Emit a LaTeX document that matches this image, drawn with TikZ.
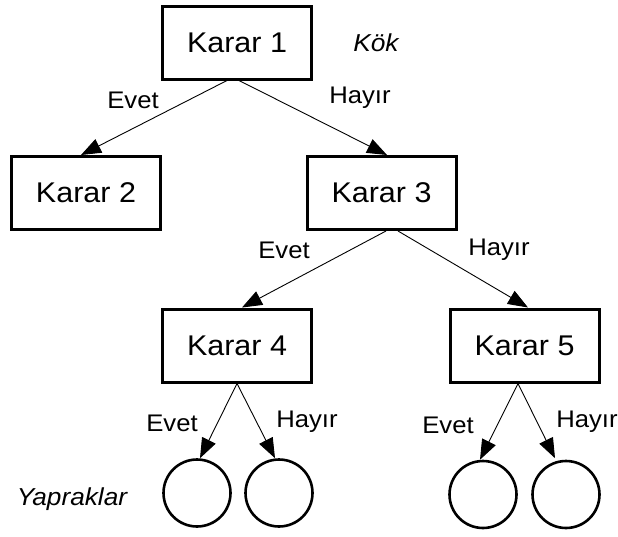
\documentclass[tikz,border=0pt]{standalone}
\usepackage{fontspec}
\setmainfont{Liberation Sans}
\newfontfamily\widesans[FakeStretch=1.07]{Liberation Sans}
\usetikzlibrary{arrows.meta}
\begin{document}
\begin{tikzpicture}[x=1pt,y=-1pt,
  decision/.style={draw,line width=3pt,minimum width=149pt,minimum height=73pt,
    inner sep=0pt,font=\widesans\fontsize{28.5}{32}\selectfont},
  leaf/.style={draw,circle,line width=2.6pt,minimum size=67pt,inner sep=0pt},
  edge/.style={line width=0.9pt,-{Triangle[length=20pt,width=15pt]}},
  lbl/.style={inner sep=0pt,font=\widesans\fontsize{24}{28}\selectfont},
  note/.style={inner sep=0pt,font=\widesans\fontsize{24.5}{28}\selectfont\itshape}]
  \useasboundingbox (0,0) rectangle (618,536);

  % decision boxes
  \node[decision] (k1) at (237,42.5) {Karar 1};
  \node[decision] (k2) at (86,193) {Karar 2};
  \node[decision] (k3) at (381.5,193) {Karar 3};
  \node[decision] (k4) at (237,345.5) {Karar 4};
  \node[decision] (k5) at (524.5,345.5) {Karar 5};

  % leaves
  \node[leaf] (l1) at (197,493) {};
  \node[leaf] (l2) at (279,493) {};
  \node[leaf] (l3) at (483,494.5) {};
  \node[leaf] (l4) at (566,494.5) {};

  % branches
  \draw[edge] ([xshift=-10pt]k1.south) -- ([xshift=-5pt]k2.north);
  \draw[edge] ([xshift=2pt]k1.south) -- ([xshift=5.5pt]k3.north);
  \draw[edge] ([xshift=4.5pt]k3.south) -- ([xshift=5pt]k4.north);
  \draw[edge] ([xshift=16.5pt]k3.south) -- ([xshift=3.5pt]k5.north);
  \draw[edge] (k4.south) -- ([xshift=3pt]l1.north);
  \draw[edge] (k4.south) -- ([xshift=-4pt]l2.north);
  \draw[edge] ([xshift=-6.5pt]k5.south) -- ([xshift=-3pt]l3.north);
  \draw[edge] ([xshift=-6.5pt]k5.south) -- ([xshift=-11pt,yshift=1.5pt]l4.north);

  % branch labels
  \node[lbl] (e1) at (133,100) {Evet};
  \node[lbl] (h1) at (360,98) {Hayır};
  \node[lbl] (e2) at (284,250) {Evet};
  \node[lbl] (h2) at (499,250) {Hayır};
  \node[lbl] (e3) at (172,423) {Evet};
  \node[lbl] (h3) at (307,422) {Hayır};
  \node[lbl] (e4) at (448,425) {Evet};
  \node[lbl] (h4) at (587,422) {Hayır};

  % annotations
  \node[note] (root) at (376,43) {Kök};
  \node[note] (leaves) at (72,499) {Yapraklar};
\end{tikzpicture}
\end{document}
